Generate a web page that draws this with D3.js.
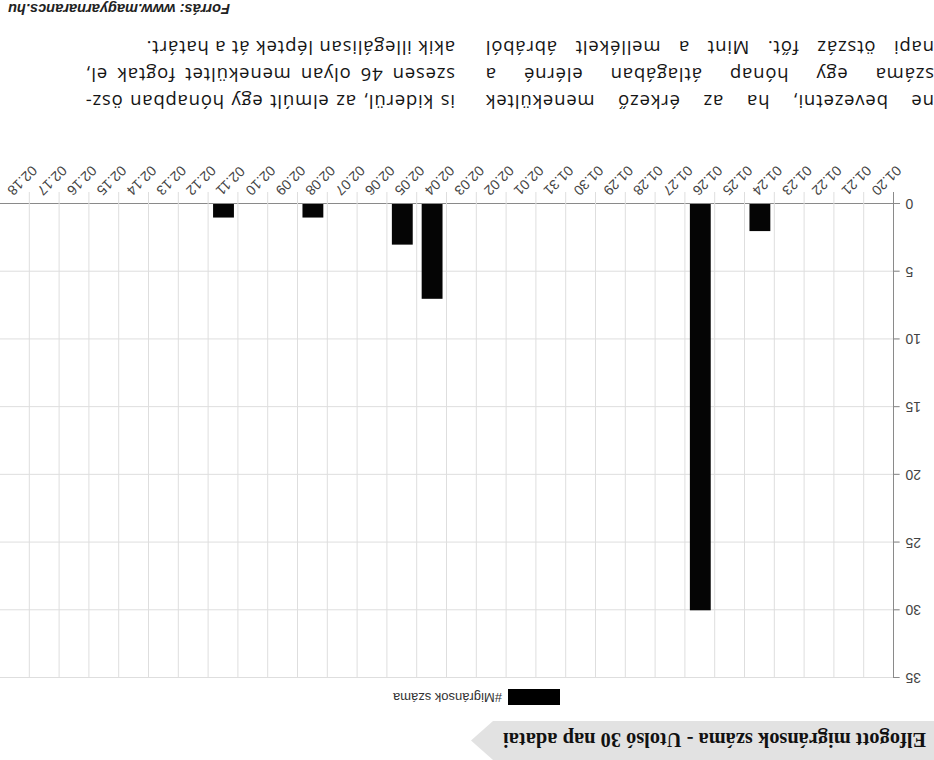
<!DOCTYPE html>
<html>
<head>
<meta charset="utf-8">
<script src="https://cdn.jsdelivr.net/npm/d3@7"></script>
<style>
  html, body { margin: 0; padding: 0; background: #ffffff; }
  svg { display: block; }
</style>
</head>
<body>
<svg id="chart" width="934" height="760"></svg>
<script>
// ---- data ----
const dates = ["01.20","01.21","01.22","01.23","01.24","01.25","01.26","01.27","01.28","01.29","01.30","01.31",
               "02.01","02.02","02.03","02.04","02.05","02.06","02.07","02.08","02.09","02.10","02.11","02.12",
               "02.13","02.14","02.15","02.16","02.17","02.18"];
const counts = [0,0,0,0,2,0,30,0,0,0,0,0,
                0,0,0,7,3,0,0,1,0,0,1,0,
                0,0,0,0,0,0];
const yTicks = [0,5,10,15,20,25,30,35];
const seriesName = "#Migránsok száma";
const titleText = "Elfogott migránsok száma - Utolsó 30 nap adatai";
const col1Lines = ["ne bevezetni, ha az érkező menekültek",
                   "száma egy hónap átlagában elérné a",
                   "napi ötszáz főt. Mint a mellékelt ábrából"];
const col2Lines = ["is kiderül, az elmúlt egy hónapban ösz-",
                   "szesen 46 olyan menekültet fogtak el,",
                   "akik illegálisan léptek át a határt."];
const sourceText = "Forrás: www.magyarnarancs.hu";

// ---- layout ----
const W = 934, H = 760;
const plot = {left: 40, right: 934, top: 82, bottom: 556};

const svg = d3.select("#chart");
// whole picture is shown upside down, as in the reference
const root = svg.append("g").attr("transform", `rotate(180, ${W/2}, ${H/2})`);

const x = d3.scaleBand().domain(dates).range([plot.left, plot.right]).padding(0);
const y = d3.scaleLinear().domain([0, 35]).range([plot.bottom, plot.top]);

// title pennant
root.append("path")
  .attr("d", "M0,0 L441,0 L463,19.5 L441,39 L0,39 Z")
  .attr("fill", "#e2e2e2");
function fitText(sel, target) {
  const w = sel.node().getComputedTextLength();
  const fs = parseFloat(sel.attr("font-size"));
  sel.attr("font-size", fs * target / w);
}
const title = root.append("text")
  .attr("x", 8).attr("y", 27)
  .attr("font-family", "'Liberation Serif', 'Times New Roman', serif")
  .attr("font-weight", "bold").attr("font-size", 17)
  .attr("fill", "#111").text(titleText);
fitText(title, 423);

// legend
root.append("rect").attr("x", 374).attr("y", 55).attr("width", 52).attr("height", 16).attr("fill", "#000");
root.append("text").attr("x", 432).attr("y", 67.5)
  .attr("font-family", "'Liberation Sans', Arial, sans-serif").attr("font-size", 13)
  .attr("fill", "#333").text(seriesName);

// horizontal grid
root.append("g").selectAll("line").data(yTicks).join("line")
  .attr("x1", plot.left - 6).attr("x2", plot.right)
  .attr("y1", d => y(d) + 0.5).attr("y2", d => y(d) + 0.5)
  .attr("stroke", d => d === 0 ? "#8a8a8a" : "#dedede").attr("stroke-width", 1);

// vertical grid at band boundaries
root.append("g").selectAll("line").data(dates.slice(1)).join("line")
  .attr("x1", d => x(d) + 0.5).attr("x2", d => x(d) + 0.5)
  .attr("y1", plot.top).attr("y2", plot.bottom + 12)
  .attr("stroke", "#dedede").attr("stroke-width", 1);

// y axis
const yAxis = root.append("g").attr("transform", `translate(${plot.left + 0.5},0)`)
  .call(d3.axisLeft(y).tickValues(yTicks).tickSize(6).tickPadding(6).tickFormat(d3.format("d")));
yAxis.select(".domain").attr("stroke", "#8a8a8a").attr("d", `M0,${plot.top}V${plot.bottom + 12}`);
yAxis.selectAll(".tick line").attr("stroke", "#8a8a8a");
yAxis.selectAll(".tick text")
  .attr("font-family", "'Liberation Sans', Arial, sans-serif").attr("font-size", 14).attr("fill", "#444");

// x labels
root.append("g").selectAll("text").data(dates).join("text")
  .attr("transform", d => `translate(${x(d) + x.bandwidth()/2 + 5},${plot.bottom + 11}) rotate(-45)`)
  .attr("text-anchor", "end").attr("dy", "0.35em")
  .attr("font-family", "'Liberation Sans', Arial, sans-serif").attr("font-size", 14)
  .attr("fill", "#444").text(d => d);

// bars
const bw = x.bandwidth() * 0.7;
root.append("g").selectAll("rect").data(dates.map((d, i) => ({d, v: counts[i]})).filter(o => o.v > 0)).join("rect")
  .attr("x", o => x(o.d) + (x.bandwidth() - bw) / 2)
  .attr("y", o => y(o.v))
  .attr("width", bw)
  .attr("height", o => y(0) - y(o.v))
  .attr("fill", "#050505");

// body text (justified columns)
const bodyFont = "'Open Sans', 'Noto Sans', sans-serif";
const bodySize = 18.5;
const probe = root.append("text").attr("font-family", bodyFont).attr("font-size", bodySize).text(col2Lines[0]);
const natural = probe.node().getComputedTextLength();
probe.remove();
const letterSp = (364 - natural) / col2Lines[0].length;

function drawLine(txt, x0, x1, yb, justify) {
  const words = txt.split(" ");
  const g = root.append("g");
  const els = words.map(w => g.append("text").attr("font-family", bodyFont).attr("font-size", bodySize)
    .attr("letter-spacing", letterSp).attr("fill", "#151515").attr("y", yb).text(w));
  const widths = els.map(e => e.node().getComputedTextLength());
  const space = justify ? (x1 - x0 - d3.sum(widths)) / (words.length - 1) : bodySize * 0.26 + letterSp;
  let cx = x0;
  els.forEach((e, i) => { e.attr("x", cx); cx += widths[i] + space; });
}
const baselines = [665, 692, 719];
col1Lines.forEach((t, i) => drawLine(t, 0, 449, baselines[i], true));
col2Lines.forEach((t, i) => drawLine(t, 479, 849, baselines[i], i < 2));

// source
const src = root.append("text").attr("x", 926).attr("y", 756).attr("text-anchor", "end")
  .attr("font-family", "'Liberation Sans', Arial, sans-serif").attr("font-weight", "bold")
  .attr("font-style", "italic").attr("font-size", 13).attr("fill", "#222").text(sourceText);
fitText(src, 222);
</script>
</body>
</html>
